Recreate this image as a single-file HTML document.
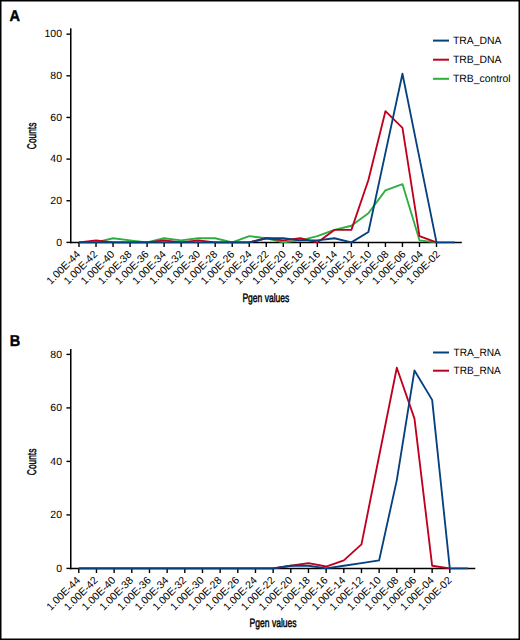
<!DOCTYPE html>
<html><head><meta charset="utf-8"><style>
html,body{margin:0;padding:0;background:#fff;}
svg{display:block;}
text{font-family:"Liberation Sans", sans-serif;fill:#000;text-rendering:geometricPrecision;}
</style></head><body>
<svg width="520" height="640" viewBox="0 0 520 640">
<rect x="0" y="0" width="520" height="640" fill="#fff"/>
<line x1="70.75" y1="28.3" x2="70.75" y2="243.25" stroke="#000" stroke-width="1.55"/>
<line x1="69.95" y1="242.4" x2="461.8" y2="242.4" stroke="#000" stroke-width="1.5"/>
<line x1="66.45" y1="242.40" x2="70.75" y2="242.40" stroke="#000" stroke-width="1.4"/>
<text x="62" y="245.50" text-anchor="end" font-size="10.5">0</text>
<line x1="66.45" y1="200.75" x2="70.75" y2="200.75" stroke="#000" stroke-width="1.4"/>
<text x="62" y="203.85" text-anchor="end" font-size="10.5">20</text>
<line x1="66.45" y1="159.10" x2="70.75" y2="159.10" stroke="#000" stroke-width="1.4"/>
<text x="62" y="162.20" text-anchor="end" font-size="10.5">40</text>
<line x1="66.45" y1="117.45" x2="70.75" y2="117.45" stroke="#000" stroke-width="1.4"/>
<text x="62" y="120.55" text-anchor="end" font-size="10.5">60</text>
<line x1="66.45" y1="75.80" x2="70.75" y2="75.80" stroke="#000" stroke-width="1.4"/>
<text x="62" y="78.90" text-anchor="end" font-size="10.5">80</text>
<line x1="66.45" y1="34.15" x2="70.75" y2="34.15" stroke="#000" stroke-width="1.4"/>
<text x="62" y="37.25" text-anchor="end" font-size="10.5">100</text>
<line x1="79.00" y1="242.4" x2="79.00" y2="247.0" stroke="#000" stroke-width="1.4"/>
<text x="81.00" y="254.90" text-anchor="end" font-size="10.5" transform="rotate(-45 81.00 254.90)">1.00E-44</text>
<line x1="96.02" y1="242.4" x2="96.02" y2="247.0" stroke="#000" stroke-width="1.4"/>
<text x="98.13" y="254.90" text-anchor="end" font-size="10.5" transform="rotate(-45 98.13 254.90)">1.00E-42</text>
<line x1="113.05" y1="242.4" x2="113.05" y2="247.0" stroke="#000" stroke-width="1.4"/>
<text x="115.26" y="254.90" text-anchor="end" font-size="10.5" transform="rotate(-45 115.26 254.90)">1.00E-40</text>
<line x1="130.07" y1="242.4" x2="130.07" y2="247.0" stroke="#000" stroke-width="1.4"/>
<text x="132.39" y="254.90" text-anchor="end" font-size="10.5" transform="rotate(-45 132.39 254.90)">1.00E-38</text>
<line x1="147.10" y1="242.4" x2="147.10" y2="247.0" stroke="#000" stroke-width="1.4"/>
<text x="149.52" y="254.90" text-anchor="end" font-size="10.5" transform="rotate(-45 149.52 254.90)">1.00E-36</text>
<line x1="164.12" y1="242.4" x2="164.12" y2="247.0" stroke="#000" stroke-width="1.4"/>
<text x="166.65" y="254.90" text-anchor="end" font-size="10.5" transform="rotate(-45 166.65 254.90)">1.00E-34</text>
<line x1="181.14" y1="242.4" x2="181.14" y2="247.0" stroke="#000" stroke-width="1.4"/>
<text x="183.78" y="254.90" text-anchor="end" font-size="10.5" transform="rotate(-45 183.78 254.90)">1.00E-32</text>
<line x1="198.17" y1="242.4" x2="198.17" y2="247.0" stroke="#000" stroke-width="1.4"/>
<text x="200.91" y="254.90" text-anchor="end" font-size="10.5" transform="rotate(-45 200.91 254.90)">1.00E-30</text>
<line x1="215.19" y1="242.4" x2="215.19" y2="247.0" stroke="#000" stroke-width="1.4"/>
<text x="218.04" y="254.90" text-anchor="end" font-size="10.5" transform="rotate(-45 218.04 254.90)">1.00E-28</text>
<line x1="232.22" y1="242.4" x2="232.22" y2="247.0" stroke="#000" stroke-width="1.4"/>
<text x="235.17" y="254.90" text-anchor="end" font-size="10.5" transform="rotate(-45 235.17 254.90)">1.00E-26</text>
<line x1="249.24" y1="242.4" x2="249.24" y2="247.0" stroke="#000" stroke-width="1.4"/>
<text x="252.30" y="254.90" text-anchor="end" font-size="10.5" transform="rotate(-45 252.30 254.90)">1.00E-24</text>
<line x1="266.26" y1="242.4" x2="266.26" y2="247.0" stroke="#000" stroke-width="1.4"/>
<text x="269.43" y="254.90" text-anchor="end" font-size="10.5" transform="rotate(-45 269.43 254.90)">1.00E-22</text>
<line x1="283.29" y1="242.4" x2="283.29" y2="247.0" stroke="#000" stroke-width="1.4"/>
<text x="286.56" y="254.90" text-anchor="end" font-size="10.5" transform="rotate(-45 286.56 254.90)">1.00E-20</text>
<line x1="300.31" y1="242.4" x2="300.31" y2="247.0" stroke="#000" stroke-width="1.4"/>
<text x="303.69" y="254.90" text-anchor="end" font-size="10.5" transform="rotate(-45 303.69 254.90)">1.00E-18</text>
<line x1="317.34" y1="242.4" x2="317.34" y2="247.0" stroke="#000" stroke-width="1.4"/>
<text x="320.82" y="254.90" text-anchor="end" font-size="10.5" transform="rotate(-45 320.82 254.90)">1.00E-16</text>
<line x1="334.36" y1="242.4" x2="334.36" y2="247.0" stroke="#000" stroke-width="1.4"/>
<text x="337.95" y="254.90" text-anchor="end" font-size="10.5" transform="rotate(-45 337.95 254.90)">1.00E-14</text>
<line x1="351.38" y1="242.4" x2="351.38" y2="247.0" stroke="#000" stroke-width="1.4"/>
<text x="355.08" y="254.90" text-anchor="end" font-size="10.5" transform="rotate(-45 355.08 254.90)">1.00E-12</text>
<line x1="368.41" y1="242.4" x2="368.41" y2="247.0" stroke="#000" stroke-width="1.4"/>
<text x="372.21" y="254.90" text-anchor="end" font-size="10.5" transform="rotate(-45 372.21 254.90)">1.00E-10</text>
<line x1="385.43" y1="242.4" x2="385.43" y2="247.0" stroke="#000" stroke-width="1.4"/>
<text x="389.34" y="254.90" text-anchor="end" font-size="10.5" transform="rotate(-45 389.34 254.90)">1.00E-08</text>
<line x1="402.46" y1="242.4" x2="402.46" y2="247.0" stroke="#000" stroke-width="1.4"/>
<text x="406.47" y="254.90" text-anchor="end" font-size="10.5" transform="rotate(-45 406.47 254.90)">1.00E-06</text>
<line x1="419.48" y1="242.4" x2="419.48" y2="247.0" stroke="#000" stroke-width="1.4"/>
<text x="423.60" y="254.90" text-anchor="end" font-size="10.5" transform="rotate(-45 423.60 254.90)">1.00E-04</text>
<line x1="436.50" y1="242.4" x2="436.50" y2="247.0" stroke="#000" stroke-width="1.4"/>
<text x="440.73" y="254.90" text-anchor="end" font-size="10.5" transform="rotate(-45 440.73 254.90)">1.00E-02</text>
<polyline points="79.00,242.40 96.02,242.40 113.05,238.24 130.07,240.32 147.10,242.40 164.12,238.24 181.14,240.32 198.17,238.24 215.19,238.24 232.22,242.40 249.24,236.15 266.26,238.24 283.29,242.40 300.31,240.32 317.34,236.15 334.36,229.91 351.38,225.74 368.41,213.25 385.43,190.34 402.46,184.09 419.48,240.32 436.50,242.40" fill="none" stroke="#2dae3e" stroke-width="1.85" stroke-linejoin="round" stroke-linecap="butt"/>
<polyline points="79.00,242.40 96.02,240.32 113.05,242.40 130.07,242.40 147.10,242.40 164.12,240.32 181.14,242.40 198.17,240.32 215.19,242.40 232.22,242.40 249.24,242.40 266.26,238.24 283.29,240.32 300.31,238.24 317.34,242.40 334.36,229.91 351.38,229.91 368.41,179.93 385.43,111.20 402.46,127.86 419.48,236.15 436.50,242.40" fill="none" stroke="#c0001f" stroke-width="1.85" stroke-linejoin="round" stroke-linecap="butt"/>
<polyline points="79.00,242.40 96.02,242.40 113.05,242.40 130.07,242.40 147.10,242.40 164.12,242.40 181.14,242.40 198.17,242.40 215.19,242.40 232.22,242.40 249.24,242.40 266.26,238.24 283.29,238.24 300.31,240.32 317.34,240.32 334.36,238.24 351.38,242.40 368.41,231.99 385.43,152.85 402.46,73.72 419.48,158.06 436.50,242.40 454.93,242.40" fill="none" stroke="#05417f" stroke-width="1.85" stroke-linejoin="round" stroke-linecap="butt"/>
<line x1="433" y1="40.60" x2="449" y2="40.60" stroke="#05417f" stroke-width="2"/>
<text x="0" y="0" font-size="10.5" transform="translate(452.9 43.90) scale(0.99 1)">TRA_DNA</text>
<line x1="433" y1="59.70" x2="449" y2="59.70" stroke="#c0001f" stroke-width="2"/>
<text x="0" y="0" font-size="10.5" transform="translate(452.9 63.00) scale(0.99 1)">TRB_DNA</text>
<line x1="433" y1="78.80" x2="449" y2="78.80" stroke="#2dae3e" stroke-width="2"/>
<text x="0" y="0" font-size="10.5" transform="translate(452.9 82.10) scale(0.99 1)">TRB_control</text>
<text x="0" y="0" text-anchor="middle" font-size="12.6" stroke="#000" stroke-width="0.45" transform="translate(36.0 135.9) rotate(-90) scale(0.665 1)">Counts</text>
<text x="0" y="0" text-anchor="middle" font-size="12.2" stroke="#000" stroke-width="0.45" transform="translate(265.9 301.9) scale(0.70 1)">Pgen values</text>
<text x="0" y="0" font-size="15.8" font-weight="bold" stroke="#000" stroke-width="0.4" transform="translate(9.6 20.7) scale(0.92 1)">A</text>
<line x1="70.75" y1="349.0" x2="70.75" y2="569.25" stroke="#000" stroke-width="1.55"/>
<line x1="69.95" y1="568.4" x2="475.3" y2="568.4" stroke="#000" stroke-width="1.5"/>
<line x1="66.45" y1="568.40" x2="70.75" y2="568.40" stroke="#000" stroke-width="1.4"/>
<text x="62" y="571.50" text-anchor="end" font-size="10.5">0</text>
<line x1="66.45" y1="514.90" x2="70.75" y2="514.90" stroke="#000" stroke-width="1.4"/>
<text x="62" y="518.00" text-anchor="end" font-size="10.5">20</text>
<line x1="66.45" y1="461.40" x2="70.75" y2="461.40" stroke="#000" stroke-width="1.4"/>
<text x="62" y="464.50" text-anchor="end" font-size="10.5">40</text>
<line x1="66.45" y1="407.90" x2="70.75" y2="407.90" stroke="#000" stroke-width="1.4"/>
<text x="62" y="411.00" text-anchor="end" font-size="10.5">60</text>
<line x1="66.45" y1="354.40" x2="70.75" y2="354.40" stroke="#000" stroke-width="1.4"/>
<text x="62" y="357.50" text-anchor="end" font-size="10.5">80</text>
<line x1="78.80" y1="568.4" x2="78.80" y2="573.0" stroke="#000" stroke-width="1.4"/>
<text x="80.80" y="580.90" text-anchor="end" font-size="10.5" transform="rotate(-45 80.80 580.90)">1.00E-44</text>
<line x1="96.47" y1="568.4" x2="96.47" y2="573.0" stroke="#000" stroke-width="1.4"/>
<text x="98.49" y="580.90" text-anchor="end" font-size="10.5" transform="rotate(-45 98.49 580.90)">1.00E-42</text>
<line x1="114.13" y1="568.4" x2="114.13" y2="573.0" stroke="#000" stroke-width="1.4"/>
<text x="116.18" y="580.90" text-anchor="end" font-size="10.5" transform="rotate(-45 116.18 580.90)">1.00E-40</text>
<line x1="131.80" y1="568.4" x2="131.80" y2="573.0" stroke="#000" stroke-width="1.4"/>
<text x="133.87" y="580.90" text-anchor="end" font-size="10.5" transform="rotate(-45 133.87 580.90)">1.00E-38</text>
<line x1="149.47" y1="568.4" x2="149.47" y2="573.0" stroke="#000" stroke-width="1.4"/>
<text x="151.56" y="580.90" text-anchor="end" font-size="10.5" transform="rotate(-45 151.56 580.90)">1.00E-36</text>
<line x1="167.13" y1="568.4" x2="167.13" y2="573.0" stroke="#000" stroke-width="1.4"/>
<text x="169.25" y="580.90" text-anchor="end" font-size="10.5" transform="rotate(-45 169.25 580.90)">1.00E-34</text>
<line x1="184.80" y1="568.4" x2="184.80" y2="573.0" stroke="#000" stroke-width="1.4"/>
<text x="186.94" y="580.90" text-anchor="end" font-size="10.5" transform="rotate(-45 186.94 580.90)">1.00E-32</text>
<line x1="202.47" y1="568.4" x2="202.47" y2="573.0" stroke="#000" stroke-width="1.4"/>
<text x="204.63" y="580.90" text-anchor="end" font-size="10.5" transform="rotate(-45 204.63 580.90)">1.00E-30</text>
<line x1="220.14" y1="568.4" x2="220.14" y2="573.0" stroke="#000" stroke-width="1.4"/>
<text x="222.32" y="580.90" text-anchor="end" font-size="10.5" transform="rotate(-45 222.32 580.90)">1.00E-28</text>
<line x1="237.80" y1="568.4" x2="237.80" y2="573.0" stroke="#000" stroke-width="1.4"/>
<text x="240.01" y="580.90" text-anchor="end" font-size="10.5" transform="rotate(-45 240.01 580.90)">1.00E-26</text>
<line x1="255.47" y1="568.4" x2="255.47" y2="573.0" stroke="#000" stroke-width="1.4"/>
<text x="257.70" y="580.90" text-anchor="end" font-size="10.5" transform="rotate(-45 257.70 580.90)">1.00E-24</text>
<line x1="273.14" y1="568.4" x2="273.14" y2="573.0" stroke="#000" stroke-width="1.4"/>
<text x="275.39" y="580.90" text-anchor="end" font-size="10.5" transform="rotate(-45 275.39 580.90)">1.00E-22</text>
<line x1="290.80" y1="568.4" x2="290.80" y2="573.0" stroke="#000" stroke-width="1.4"/>
<text x="293.08" y="580.90" text-anchor="end" font-size="10.5" transform="rotate(-45 293.08 580.90)">1.00E-20</text>
<line x1="308.47" y1="568.4" x2="308.47" y2="573.0" stroke="#000" stroke-width="1.4"/>
<text x="310.77" y="580.90" text-anchor="end" font-size="10.5" transform="rotate(-45 310.77 580.90)">1.00E-18</text>
<line x1="326.14" y1="568.4" x2="326.14" y2="573.0" stroke="#000" stroke-width="1.4"/>
<text x="328.46" y="580.90" text-anchor="end" font-size="10.5" transform="rotate(-45 328.46 580.90)">1.00E-16</text>
<line x1="343.81" y1="568.4" x2="343.81" y2="573.0" stroke="#000" stroke-width="1.4"/>
<text x="346.15" y="580.90" text-anchor="end" font-size="10.5" transform="rotate(-45 346.15 580.90)">1.00E-14</text>
<line x1="361.47" y1="568.4" x2="361.47" y2="573.0" stroke="#000" stroke-width="1.4"/>
<text x="363.84" y="580.90" text-anchor="end" font-size="10.5" transform="rotate(-45 363.84 580.90)">1.00E-12</text>
<line x1="379.14" y1="568.4" x2="379.14" y2="573.0" stroke="#000" stroke-width="1.4"/>
<text x="381.53" y="580.90" text-anchor="end" font-size="10.5" transform="rotate(-45 381.53 580.90)">1.00E-10</text>
<line x1="396.81" y1="568.4" x2="396.81" y2="573.0" stroke="#000" stroke-width="1.4"/>
<text x="399.22" y="580.90" text-anchor="end" font-size="10.5" transform="rotate(-45 399.22 580.90)">1.00E-08</text>
<line x1="414.47" y1="568.4" x2="414.47" y2="573.0" stroke="#000" stroke-width="1.4"/>
<text x="416.91" y="580.90" text-anchor="end" font-size="10.5" transform="rotate(-45 416.91 580.90)">1.00E-06</text>
<line x1="432.14" y1="568.4" x2="432.14" y2="573.0" stroke="#000" stroke-width="1.4"/>
<text x="434.60" y="580.90" text-anchor="end" font-size="10.5" transform="rotate(-45 434.60 580.90)">1.00E-04</text>
<line x1="449.81" y1="568.4" x2="449.81" y2="573.0" stroke="#000" stroke-width="1.4"/>
<text x="452.29" y="580.90" text-anchor="end" font-size="10.5" transform="rotate(-45 452.29 580.90)">1.00E-02</text>
<polyline points="78.80,568.40 96.47,568.40 114.13,568.40 131.80,568.40 149.47,568.40 167.13,568.40 184.80,568.40 202.47,568.40 220.14,568.40 237.80,568.40 255.47,568.40 273.14,568.40 290.80,565.73 308.47,563.05 326.14,566.53 343.81,560.38 361.47,544.32 379.14,456.05 396.81,367.77 414.47,418.60 432.14,565.73 449.81,568.40" fill="none" stroke="#c0001f" stroke-width="1.85" stroke-linejoin="round" stroke-linecap="butt"/>
<polyline points="78.80,568.40 96.47,568.40 114.13,568.40 131.80,568.40 149.47,568.40 167.13,568.40 184.80,568.40 202.47,568.40 220.14,568.40 237.80,568.40 255.47,568.40 273.14,568.40 290.80,565.73 308.47,565.73 326.14,568.40 343.81,565.73 361.47,563.05 379.14,560.38 396.81,480.12 414.47,370.45 432.14,399.88 449.81,568.40 467.97,568.40" fill="none" stroke="#05417f" stroke-width="1.85" stroke-linejoin="round" stroke-linecap="butt"/>
<line x1="433" y1="352.50" x2="449" y2="352.50" stroke="#05417f" stroke-width="2"/>
<text x="0" y="0" font-size="10.5" transform="translate(453.5 355.80) scale(0.965 1)">TRA_RNA</text>
<line x1="433" y1="370.70" x2="449" y2="370.70" stroke="#c0001f" stroke-width="2"/>
<text x="0" y="0" font-size="10.5" transform="translate(453.5 374.00) scale(0.965 1)">TRB_RNA</text>
<text x="0" y="0" text-anchor="middle" font-size="12.6" stroke="#000" stroke-width="0.45" transform="translate(36.0 461.9) rotate(-90) scale(0.665 1)">Counts</text>
<text x="0" y="0" text-anchor="middle" font-size="12.2" stroke="#000" stroke-width="0.45" transform="translate(273.1 627.3) scale(0.70 1)">Pgen values</text>
<text x="0" y="0" font-size="15.8" font-weight="bold" stroke="#000" stroke-width="0.4" transform="translate(9.8 345.6) scale(0.92 1)">B</text>
<rect x="0.75" y="0.75" width="518.5" height="638.5" fill="none" stroke="#000" stroke-width="1.5"/>
</svg>
</body></html>
